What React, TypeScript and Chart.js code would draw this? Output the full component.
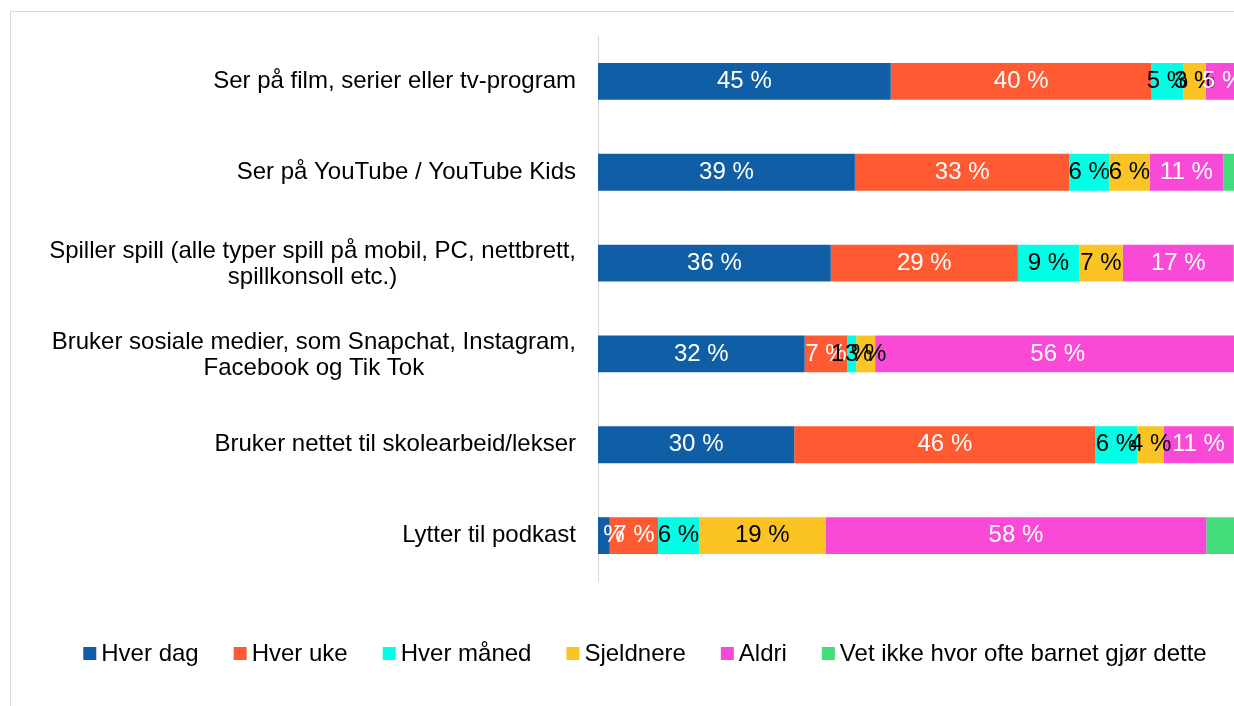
import React, { useEffect, useRef } from "react";
import { Chart, registerables } from "chart.js";

Chart.register(...registerables);

// ---------- data ----------
const categories: string[][] = [
  ["Ser på film, serier eller tv-program"],
  ["Ser på YouTube / YouTube Kids"],
  ["Spiller spill (alle typer spill på mobil, PC, nettbrett,", "spillkonsoll etc.)"],
  ["Bruker sosiale medier, som Snapchat, Instagram,", "Facebook og Tik Tok"],
  ["Bruker nettet til skolearbeid/lekser"],
  ["Lytter til podkast"],
];

const seriesNames = [
  "Hver dag",
  "Hver uke",
  "Hver måned",
  "Sjeldnere",
  "Aldri",
  "Vet ikke hvor ofte barnet gjør dette",
];

const hverDag = [44.9, 39.4, 35.7, 31.7, 30.1, 1.8];
const hverUke = [40.0, 32.9, 28.7, 6.5, 46.2, 7.4];
const hverMaaned = [4.9, 6.1, 9.4, 1.4, 6.4, 6.3];
const sjeldnere = [3.4, 6.2, 6.7, 2.9, 4.1, 19.4];
const aldri = [5.2, 11.3, 17.0, 56.0, 10.6, 58.4];
const vetIkke = [1.6, 4.1, 2.5, 1.5, 2.6, 6.7];

const seriesValues = [hverDag, hverUke, hverMaaned, sjeldnere, aldri, vetIkke];

// ---------- styles ----------
const seriesColors = ["#105EA6", "#FF5A32", "#00FFE4", "#F9C424", "#F84AD7", "#43DD7B"];
const valueLabelColors: (string | null)[] = ["#ffffff", "#ffffff", "#000000", "#000000", "#ffffff", null];
const FONT = '"Liberation Sans", Arial, sans-serif';
const FS = 24;

const valueLabelPlugin = {
  id: "valueLabels",
  afterDatasetsDraw(chart: any) {
    const { ctx, chartArea } = chart;
    ctx.save();
    ctx.beginPath();
    ctx.rect(chartArea.left, chartArea.top, chartArea.right - chartArea.left, chartArea.bottom - chartArea.top);
    ctx.clip();
    ctx.font = `${FS}px ${FONT}`;
    ctx.textAlign = "center";
    ctx.textBaseline = "middle";
    chart.data.datasets.forEach((ds: any, di: number) => {
      const color = valueLabelColors[di];
      if (!color) return;
      const meta = chart.getDatasetMeta(di);
      meta.data.forEach((el: any, i: number) => {
        const v = ds.data[i] as number;
        const p = el.getProps(["x", "y", "base"], true);
        ctx.fillStyle = color;
        ctx.fillText(`${Math.round(v)} %`, (p.x + p.base) / 2, p.y);
      });
    });
    ctx.restore();
  },
};

const categoryLabelPlugin = {
  id: "categoryLabels",
  afterDraw(chart: any) {
    const { ctx, chartArea } = chart;
    const yScale = chart.scales.y;
    ctx.save();
    ctx.font = `${FS}px ${FONT}`;
    ctx.fillStyle = "#000000";
    ctx.textAlign = "center";
    ctx.textBaseline = "middle";
    const rightEdge = chartArea.left - 22;
    const lineH = 25.5;
    categories.forEach((lines, i) => {
      const widest = Math.max(...lines.map((l) => ctx.measureText(l).width));
      const cx = rightEdge - widest / 2;
      const cy = yScale.getPixelForValue(i) + (lines.length > 1 ? 1.5 : 0);
      lines.forEach((line, j) => {
        ctx.fillText(line, cx, cy + (j - (lines.length - 1) / 2) * lineH);
      });
    });
    ctx.restore();
  },
};

const legendPlugin = {
  id: "customLegend",
  afterDraw(chart: any) {
    const { ctx, width } = chart;
    ctx.save();
    ctx.font = `${FS}px ${FONT}`;
    ctx.textBaseline = "middle";
    ctx.textAlign = "left";
    const box = 13;
    const boxGap = 5;
    const itemGap = 35;
    const y = 654;
    const widths = seriesNames.map((n) => box + boxGap + ctx.measureText(n).width);
    const total = widths.reduce((a, b) => a + b, 0) + itemGap * (widths.length - 1);
    let x = width / 2 - total / 2;
    seriesNames.forEach((name, i) => {
      ctx.fillStyle = seriesColors[i];
      ctx.fillRect(x, y - box / 2 - 0.5, box, box);
      ctx.fillStyle = "#000000";
      ctx.fillText(name, x + box + boxGap, y);
      x += widths[i] + itemGap;
    });
    ctx.restore();
  },
};

export default function App() {
  const canvasRef = useRef<HTMLCanvasElement | null>(null);

  useEffect(() => {
    if (!canvasRef.current) return;
    const chart = new Chart(canvasRef.current, {
      type: "bar",
      data: {
        labels: categories.map((c) => c.join(" ")),
        datasets: seriesNames.map((name, i) => ({
          label: name,
          data: seriesValues[i],
          backgroundColor: seriesColors[i],
          borderWidth: 0,
          categoryPercentage: 1,
          barPercentage: 0.405,
        })),
      },
      options: {
        indexAxis: "y",
        responsive: false,
        maintainAspectRatio: false,
        animation: false,
        devicePixelRatio: 1,
        layout: { padding: { top: 36, bottom: 125, right: 40, left: 0 } },
        plugins: {
          legend: { display: false },
          tooltip: { enabled: false },
        },
        scales: {
          x: { stacked: true, min: 0, max: 100, display: false },
          y: {
            stacked: true,
            grid: { display: false, drawTicks: false },
            border: { display: true, color: "#d9d9d9", width: 1 },
            ticks: { display: false },
            afterFit: (s: any) => {
              s.width = 598;
            },
          },
        },
      } as any,
      plugins: [valueLabelPlugin, categoryLabelPlugin, legendPlugin],
    });
    return () => chart.destroy();
  }, []);

  return (
    <div
      style={{
        position: "fixed",
        left: 0,
        top: 0,
        width: 1234,
        height: 706,
        overflow: "hidden",
        background: "#ffffff",
      }}
    >
      <div
        style={{
          position: "absolute",
          left: 10,
          top: 11,
          width: 1400,
          height: 900,
          border: "1px solid #d9d9d9",
        }}
      />
      <canvas
        ref={canvasRef}
        width={1290}
        height={706}
        style={{ position: "absolute", left: 0, top: 0, width: 1290, height: 706 }}
      />
    </div>
  );
}
